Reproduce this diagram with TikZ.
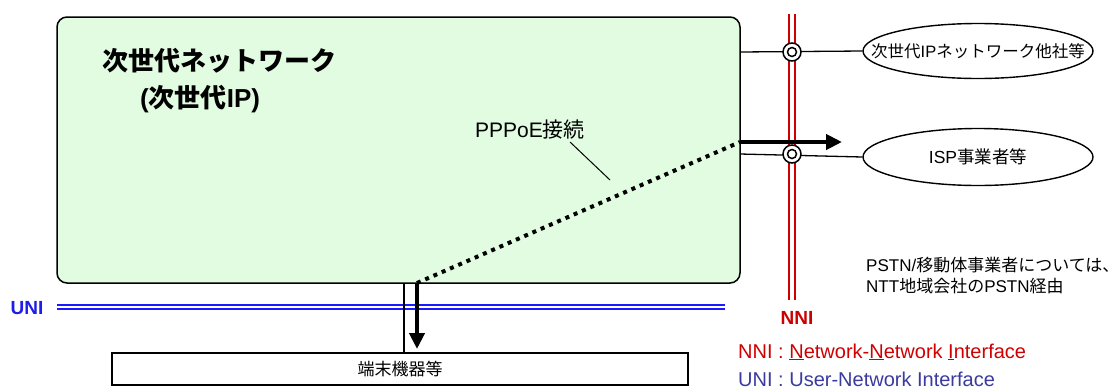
\documentclass[tikz,border=0pt]{standalone}
\usepackage{fontspec}
\setmainfont{Liberation Sans}
\newfontfamily\cjk{Noto Sans CJK JP}
\usetikzlibrary{arrows.meta,shapes.geometric}
\definecolor{boxgreen}{HTML}{E2FCE2}
\definecolor{nnired}{HTML}{CC0000}
\definecolor{legred}{HTML}{D00000}
\definecolor{unilineblue}{HTML}{1A1AFF}
\definecolor{uniblue}{HTML}{1E1EE6}
\definecolor{legblue}{HTML}{3A3AA0}
\newcommand{\jp}[1]{{\cjk #1}}
\begin{document}
\begin{tikzpicture}[x=1pt,y=-1pt,
  netbox/.style={draw=black,line width=1.5pt,fill=boxgreen,rounded corners=10pt},
  termbox/.style={draw=black,line width=1.4pt,fill=white,minimum width=576pt,minimum height=32pt,inner sep=0pt},
  peer/.style={draw=black,line width=1.4pt,fill=white,ellipse,inner sep=0pt},
  thinline/.style={black,line width=1.3pt},
  bigarrow/.style={black,line width=4pt,-{Triangle[length=16pt,width=15pt]}},
  pppoe/.style={black,line width=4pt,dash pattern=on 4pt off 5pt},
  ring/.style={draw=black,line width=1.5pt,fill=white,circle,minimum size=18pt,inner sep=0pt},
  ringin/.style={draw=black,line width=1.5pt,circle,minimum size=9pt,inner sep=0pt},
  redpair/.style={nnired,line width=2pt,double=white,double distance=4pt},
  bluepair/.style={unilineblue,line width=1.8pt,double=white,double distance=2.2pt},
  txt/.style={inner sep=0pt,font=\fontsize{#1}{#1}\selectfont},
]
\useasboundingbox (0,0) rectangle (1118,389);

% network box
\path[netbox] (57,17) rectangle (740,283);
\node[txt=26,anchor=west,font=\fontsize{26}{26}\selectfont\bfseries] (t1) at (102,61) {\jp{次世代ネットワーク}};
\node[txt=26,anchor=west,font=\fontsize{26}{26}\selectfont\bfseries] (t2) at (140,99) {(\jp{次世代}IP)};

% NNI red double line
\coordinate (nnitop) at (792,14);
\coordinate (nnibot) at (792,300);
\draw[redpair] (nnitop) -- (nnibot);

% UNI blue double line
\coordinate (unil) at (57,307);
\coordinate (unir) at (725,307);
\draw[bluepair] (unil) -- (unir);

% peers
\node[peer,minimum width=230pt,minimum height=55pt] (e1) at (978,51) {};
\node[txt=16.5] (e1t) at (e1) {\jp{次世代}IP\jp{ネットワーク他社等}};
\node[peer,minimum width=230pt,minimum height=57pt] (e2) at (978,157) {};
\node[txt=17.5] (e2t) at (e2) {ISP\jp{事業者等}};

\coordinate (b1) at (740,52);
\coordinate (b2) at (740,154);
\draw[thinline] (b1) -- (e1.west);
\draw[thinline] (b2) -- (e2.west);
\node[ring] (c1) at (792,52) {};
\node[ringin] at (c1) {};
\node[ring] (c2) at (792,154) {};
\node[ringin] at (c2) {};

% terminal box
\node[termbox] (term) at (400,369) {\fontsize{17}{17}\selectfont\jp{端末機器等}};
\coordinate (tl) at (404,283);
\draw[thinline] (tl) -- (tl |- term.north);

% PPPoE path
\coordinate (pa) at (417,283);
\coordinate (pb) at (740,142);
\coordinate (pc) at (842,142);
\coordinate (pd) at (417,349);
\draw[pppoe] (pa) -- (pb);
\draw[bigarrow] (pb) -- (pc);
\draw[bigarrow] (pa) -- (pd);

\node[txt=21,anchor=west] (ptxt) at (475,130) {PPPoE\jp{接続}};
\coordinate (la) at (570,142);
\coordinate (lb) at (610,180);
\draw[black,line width=1pt] (la) -- (lb);

% labels
\node[txt=19,font=\fontsize{19}{19}\selectfont\bfseries,text=uniblue] (unilab) at (27,308) {UNI};
\node[txt=19,font=\fontsize{19}{19}\selectfont\bfseries,text=nnired] (nnilab) at (797,318) {NNI};

\node[txt=17,anchor=west,align=left] (note) at (866,276) {PSTN/\jp{移動体事業者については、}\\[4pt]NTT\jp{地域会社の}PSTN\jp{経由}};

\node[txt=20,anchor=west,text=legred] (leg1) at (738,352) {NNI : \underline{N}etwork-\underline{N}etwork \underline{I}nterface};
\node[txt=20,anchor=west,text=legblue] (leg2) at (738,379) {UNI : User-Network Interface};
\end{tikzpicture}
\end{document}
